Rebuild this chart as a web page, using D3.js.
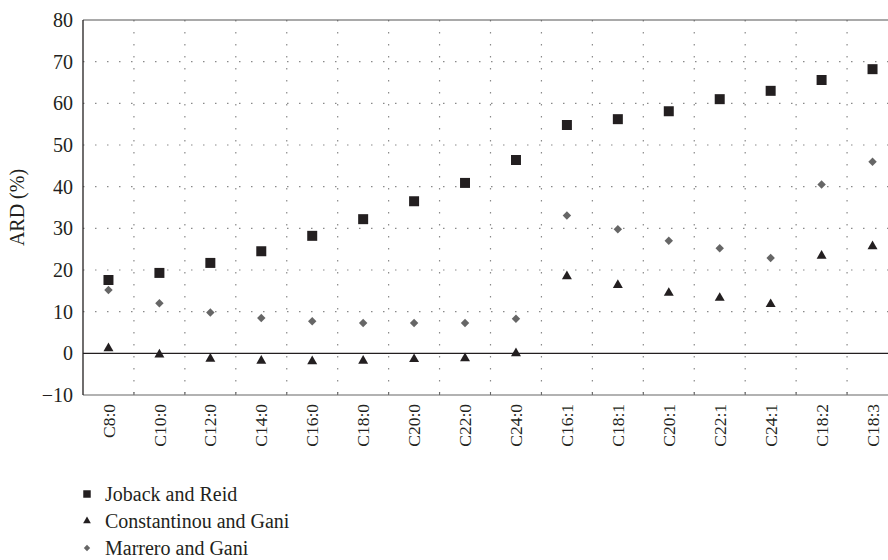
<!DOCTYPE html>
<html>
<head>
<meta charset="utf-8">
<script src="https://cdn.jsdelivr.net/npm/d3@7"></script>
<style>
  body { margin: 0; background: #fff; }
</style>
</head>
<body>
<svg width="888" height="560"></svg>
<script>
// categories + values
const acids = ["C8:0","C10:0","C12:0","C14:0","C16:0","C18:0","C20:0","C22:0","C24:0",
               "C16:1","C18:1","C20:1","C22:1","C24:1","C18:2","C18:3"];
const joback = [17.6, 19.3, 21.7, 24.5, 28.2, 32.2, 36.5, 40.9, 46.4, 54.8, 56.2, 58.1, 61.0, 63.0, 65.6, 68.2];
const constantinou = [1.2, -0.3, -1.3, -1.8, -1.9, -1.8, -1.4, -1.2, 0.0, 18.5, 16.4, 14.5, 13.3, 11.8, 23.4, 25.7];
const marrero = [15.2, 12.0, 9.8, 8.5, 7.7, 7.3, 7.3, 7.3, 8.3, 33.1, 29.8, 27.0, 25.2, 22.9, 40.5, 46.0];
const yTicks = [-10, 0, 10, 20, 30, 40, 50, 60, 70, 80];

const series = [
  { name: "Joback and Reid", values: joback, shape: "square" },
  { name: "Constantinou and Gani", values: constantinou, shape: "triangle" },
  { name: "Marrero and Gani", values: marrero, shape: "diamond" }
];

const pLeft = 83, pRight = 898, pTop = 20, pBottom = 395;
const dark = "#231f20";
const serif = "'Liberation Serif', 'Times New Roman', Times, 'DejaVu Serif', serif";

const svg = d3.select("svg");

const x = d3.scaleBand().domain(acids).range([pLeft, pRight]).padding(0);
const y = d3.scaleLinear().domain([-10, 80]).range([pBottom, pTop]);

// dotted grid
const grid = svg.append("g");
grid.selectAll(".hg")
    .data(yTicks.filter(d => d !== 0 && d !== -10 && d !== 80))
    .enter().append("line")
    .attr("x1", pLeft).attr("x2", pRight)
    .attr("y1", d => y(d)).attr("y2", d => y(d))
    .style("stroke", "#8a8a8a").style("stroke-width", 1.2)
    .style("stroke-dasharray", "1.5,10.5");
grid.selectAll(".vg")
    .data(acids.slice(1))
    .enter().append("line")
    .attr("x1", d => x(d)).attr("x2", d => x(d))
    .attr("y1", pTop).attr("y2", pBottom)
    .style("stroke", "#8a8a8a").style("stroke-width", 1.2)
    .style("stroke-dasharray", "1.5,10.5");

// frame
svg.append("line").attr("x1", pLeft).attr("x2", pRight).attr("y1", pTop).attr("y2", pTop)
   .style("stroke", "#555").style("stroke-width", 1.2);
svg.append("line").attr("x1", pLeft).attr("x2", pRight).attr("y1", pBottom).attr("y2", pBottom)
   .style("stroke", "#666").style("stroke-width", 1.2);
svg.append("line").attr("x1", pLeft).attr("x2", pRight).attr("y1", y(0)).attr("y2", y(0))
   .style("stroke", dark).style("stroke-width", 1.3);
svg.append("line").attr("x1", pLeft).attr("x2", pLeft).attr("y1", pTop).attr("y2", pBottom)
   .style("stroke", dark).style("stroke-width", 1.3);

// small ticks on bottom edge
svg.selectAll(".bt")
   .data(acids.slice(1))
   .enter().append("line")
   .attr("x1", d => x(d)).attr("x2", d => x(d))
   .attr("y1", pBottom).attr("y2", pBottom - 3)
   .style("stroke", "#666");

// y axis
const yAxis = svg.append("g")
    .attr("transform", `translate(${pLeft},0)`)
    .call(d3.axisLeft(y).tickValues(yTicks).tickSize(0).tickPadding(10)
          .tickFormat(d => d < 0 ? "\u2212" + Math.abs(d) : d));
yAxis.select(".domain").remove();
yAxis.selectAll("text")
    .style("font-family", serif).style("font-size", "20px").style("fill", dark);

// x axis labels
const xAxis = svg.append("g")
    .attr("transform", `translate(0,${pBottom})`)
    .call(d3.axisBottom(x).tickSize(0));
xAxis.select(".domain").remove();
xAxis.selectAll("text")
    .style("font-family", serif).style("font-size", "17.5px").style("fill", dark)
    .attr("text-anchor", "end")
    .attr("y", 0).attr("dy", "0.35em")
    .attr("transform", "translate(0,9) rotate(-90)")
    .attr("x", 0);

// y title
svg.append("text")
   .attr("transform", `translate(24,${(pTop + pBottom) / 2}) rotate(-90)`)
   .attr("text-anchor", "middle")
   .style("font-family", serif).style("font-size", "20px").style("fill", dark)
   .text("ARD (%)");

function symbolPath(shape, big) {
  if (shape === "square") return d3.symbol(d3.symbolSquare, big ? 100 : 56)();
  if (shape === "triangle") return d3.symbol(d3.symbolTriangle, big ? 43 : 26)();
  return d3.symbol(d3.symbolSquare, big ? 36 : 20)();
}
function symbolFill(shape) { return shape === "diamond" ? "#666" : dark; }
function symbolRot(shape) { return shape === "diamond" ? " rotate(45)" : ""; }

// points
series.forEach(s => {
  svg.append("g").selectAll("path")
     .data(s.values)
     .enter().append("path")
     .attr("d", symbolPath(s.shape, true))
     .attr("transform", (d, i) => `translate(${x(acids[i]) + x.bandwidth() / 2},${y(d)})${symbolRot(s.shape)}`)
     .style("fill", symbolFill(s.shape));
});

// legend
const legend = svg.append("g");
series.forEach((s, i) => {
  const ly = 494 + i * 27;
  legend.append("path")
        .attr("d", symbolPath(s.shape, false))
        .attr("transform", `translate(87,${ly})${symbolRot(s.shape)}`)
        .style("fill", symbolFill(s.shape));
  legend.append("text")
        .attr("x", 105).attr("y", ly).attr("dy", "0.35em")
        .style("font-family", serif).style("font-size", "20px").style("fill", dark)
        .text(s.name);
});
</script>
</body>
</html>
